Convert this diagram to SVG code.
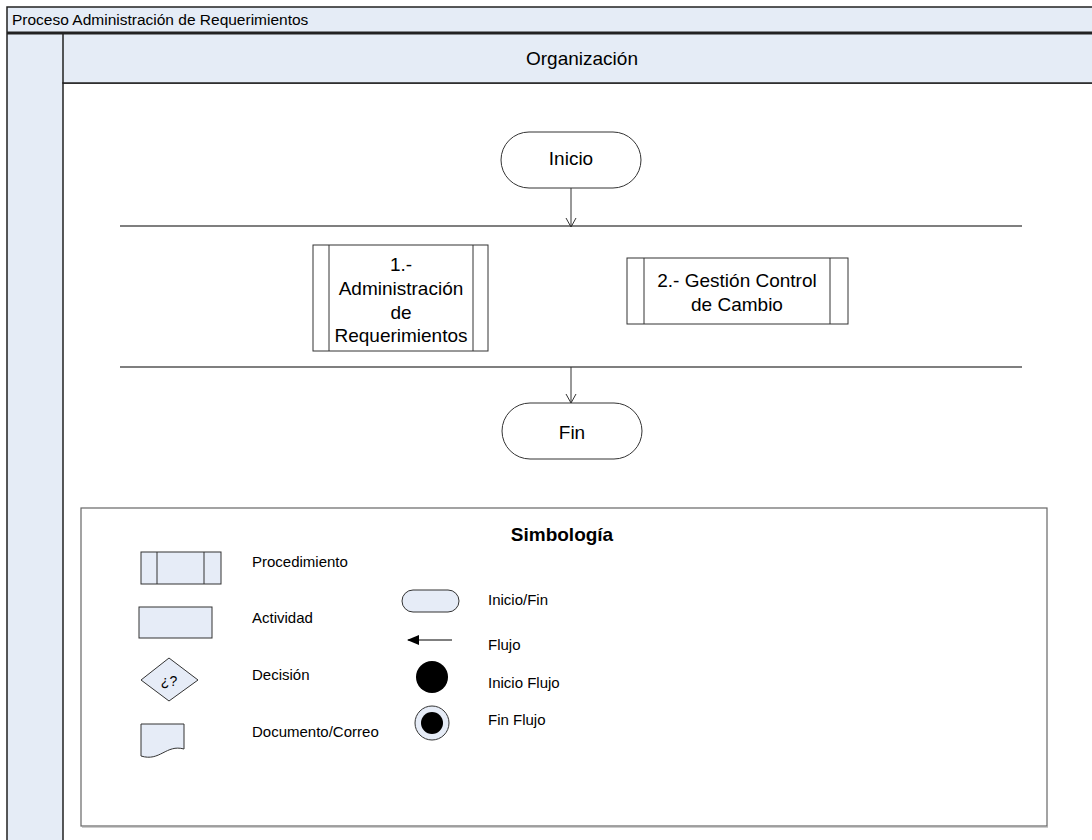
<svg xmlns="http://www.w3.org/2000/svg" width="1092" height="840" viewBox="0 0 1092 840">
  <style>
    text { font-family: "Liberation Sans", Arial, sans-serif; fill: #000; }
    .frame { fill: #E5ECF6; stroke: #222; stroke-width: 1.5; }
    .lane { fill: #FFFFFF; stroke: #222; stroke-width: 1.5; }
    .sep { stroke: #555; stroke-width: 1.5; fill: none; }
    .node { fill: #FFFFFF; stroke: #333; stroke-width: 1; }
    .sym { fill: #E6ECF7; stroke: #333; stroke-width: 1; }
    .flow { stroke: #333; stroke-width: 1; fill: none; }
    .nt { font-size: 19px; text-anchor: middle; }
    .lt { font-size: 15px; }
  </style>
  <defs>
    <marker id="openArrow" markerWidth="12" markerHeight="12" refX="10" refY="6" orient="auto" markerUnits="userSpaceOnUse">
      <path d="M1,1 L10,6 L1,11" fill="none" stroke="#333" stroke-width="1"/>
    </marker>
    <marker id="solidArrow" markerWidth="12" markerHeight="10" refX="11" refY="5" orient="auto" markerUnits="userSpaceOnUse">
      <path d="M0,0 L12,5 L0,10 Z" fill="#000"/>
    </marker>
  </defs>

  <rect width="1092" height="840" fill="#FFFFFF"/>

  <!-- pool frame with title bar, lane header and side column -->
  <g id="pool">
    <rect class="frame" x="7" y="7" width="1100" height="850"/>
    <rect class="lane" x="63" y="83" width="1044" height="774"/>
    <rect class="frame" x="63" y="33" width="1044" height="50"/>
    <line x1="7" y1="33" x2="1092" y2="33" stroke="#222" stroke-width="3"/>
    <text x="12" y="25" style="font-size:15.5px">Proceso Administración de Requerimientos</text>
    <text x="582" y="65" style="font-size:19px" text-anchor="middle">Organización</text>
  </g>

  <!-- parallel split / join bars -->
  <g id="bars">
    <line class="sep" x1="120" y1="226" x2="1022" y2="226"/>
    <line class="sep" x1="120" y1="367" x2="1022" y2="367"/>
  </g>

  <g id="inicio">
    <rect class="node" x="501" y="132" width="140" height="56" rx="28" ry="28"/>
    <text class="nt" x="571" y="165">Inicio</text>
  </g>

  <g id="proc1">
    <rect class="node" x="313" y="245" width="175" height="106"/>
    <line class="flow" x1="329" y1="245" x2="329" y2="351"/>
    <line class="flow" x1="473" y1="245" x2="473" y2="351"/>
    <text class="nt" x="401" y="271">1.-</text>
    <text class="nt" x="401" y="295">Administración</text>
    <text class="nt" x="401" y="319">de</text>
    <text class="nt" x="401" y="342">Requerimientos</text>
  </g>

  <g id="proc2">
    <rect class="node" x="627" y="258" width="221" height="66"/>
    <line class="flow" x1="644" y1="258" x2="644" y2="324"/>
    <line class="flow" x1="830" y1="258" x2="830" y2="324"/>
    <text class="nt" x="737" y="287">2.- Gestión Control</text>
    <text class="nt" x="737" y="311">de Cambio</text>
  </g>

  <g id="fin">
    <rect class="node" x="502" y="403" width="140" height="56" rx="28" ry="28"/>
    <text class="nt" x="572" y="439">Fin</text>
  </g>

  <g id="connectors">
    <line class="flow" x1="571" y1="188" x2="571" y2="227" marker-end="url(#openArrow)"/>
    <line class="flow" x1="571" y1="367" x2="571" y2="403" marker-end="url(#openArrow)"/>
  </g>

  <!-- symbol legend -->
  <g id="legend">
    <rect x="81" y="508" width="966" height="318" fill="#FFFFFF" stroke="#666" stroke-width="1.2"/>
    <line x1="82" y1="827" x2="1048" y2="827" stroke="#999" stroke-width="1"/>
    <text x="562" y="541" style="font-size:19px;font-weight:bold" text-anchor="middle">Simbología</text>

    <rect class="sym" x="141" y="552" width="80" height="32"/>
    <line class="flow" x1="157" y1="552" x2="157" y2="584"/>
    <line class="flow" x1="204" y1="552" x2="204" y2="584"/>
    <text class="lt" x="252" y="567">Procedimiento</text>

    <rect class="sym" x="139" y="607" width="73" height="31"/>
    <text class="lt" x="252" y="623">Actividad</text>

    <polygon class="sym" points="141,680 169,658 198,680 169,701"/>
    <text x="169" y="686" style="font-size:14px" text-anchor="middle">¿?</text>
    <text class="lt" x="252" y="680">Decisión</text>

    <path class="sym" d="M141,724 L184,724 L184,749 C166,744 160,762 141,756 Z"/>
    <text class="lt" x="252" y="737">Documento/Correo</text>

    <rect class="sym" x="402" y="590" width="57" height="22" rx="11" ry="11"/>
    <text class="lt" x="488" y="605">Inicio/Fin</text>

    <line x1="452" y1="640" x2="408" y2="640" stroke="#000" stroke-width="1" marker-end="url(#solidArrow)"/>
    <text class="lt" x="488" y="650">Flujo</text>

    <circle cx="432" cy="677" r="16" fill="#000"/>
    <text class="lt" x="488" y="688">Inicio Flujo</text>

    <circle cx="432" cy="723" r="17" fill="#E6ECF7" stroke="#333" stroke-width="1"/>
    <circle cx="432" cy="723" r="11" fill="#000"/>
    <text class="lt" x="488" y="725">Fin Flujo</text>
  </g>
</svg>
